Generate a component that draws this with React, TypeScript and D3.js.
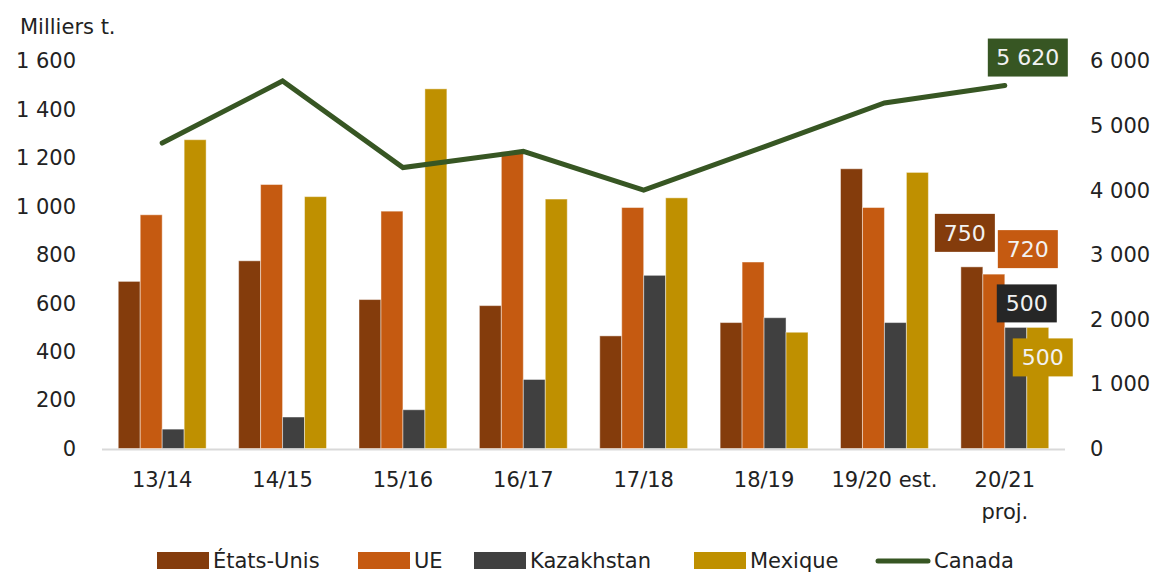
import React from 'react';
import * as d3 from 'd3';

const categories = ['13/14', '14/15', '15/16', '16/17', '17/18', '18/19', '19/20 est.', '20/21\nproj.'];
const etatsUnis = [690, 775, 615, 590, 465, 520, 1155, 750];
const ue = [965, 1090, 980, 1225, 995, 770, 995, 720];
const kazakhstan = [80, 130, 160, 285, 715, 540, 520, 500];
const mexique = [1275, 1040, 1485, 1030, 1035, 480, 1140, 500];
const canada = [4730, 5690, 4350, 4600, 4000, 4670, 5350, 5620];
const leftTicks = [0, 200, 400, 600, 800, 1000, 1200, 1400, 1600];
const rightTicks = [0, 1000, 2000, 3000, 4000, 5000, 6000];

const barSeries = [
  { name: 'États-Unis', values: etatsUnis, color: '#843C0C' },
  { name: 'UE', values: ue, color: '#C55A11' },
  { name: 'Kazakhstan', values: kazakhstan, color: '#404040' },
  { name: 'Mexique', values: mexique, color: '#BF9000' },
];
const lineColor = '#375623';

const W = 1156, H = 572;
const x0 = 102, x1 = 1065, yTop = 61, yBase = 448.5;
const font = '"DejaVu Sans", sans-serif';
const fmt = (v: number) => d3.format(',')(v).replace(/,/g, '\u00a0');

// offsets of the end-value labels relative to their mark (last category)
const labelOffsets = [
  { dx: -7, dy: -34 },
  { dx: 34, dy: -25 },
  { dx: 11, dy: -24 },
  { dx: 5, dy: 30 },
];

export default function App() {
  const xScale = d3.scaleBand().domain(categories).range([x0, x1]).paddingInner(0.27).paddingOuter(0.135);
  const xSub = d3.scaleBand().domain(barSeries.map(s => s.name)).range([0, xScale.bandwidth()]);
  const yLeft = d3.scaleLinear().domain([0, 1600]).range([yBase, yTop]);
  const yRight = d3.scaleLinear().domain([0, 6000]).range([yBase, yTop]);
  const cx = (c: string) => (xScale(c) as number) + xScale.bandwidth() / 2;
  const line = d3.line<number>().x((_, i) => cx(categories[i])).y(v => yRight(v));
  const last = categories[categories.length - 1];

  const legend = [
    { name: 'États-Unis', x: 157, color: barSeries[0].color },
    { name: 'UE', x: 358, color: barSeries[1].color },
    { name: 'Kazakhstan', x: 474, color: barSeries[2].color },
    { name: 'Mexique', x: 694, color: barSeries[3].color },
  ];

  return (
    <svg width={W} height={H} style={{ position: 'absolute', left: 0, top: 0, background: '#fff' }} fontFamily={font}>
      <text x={20} y={34} fontSize={21} fill="#222">Milliers t.</text>
      {leftTicks.map(t => (
        <text key={t} x={76} y={yLeft(t)} dy="0.35em" textAnchor="end" fontSize={21} fill="#222">{fmt(t)}</text>
      ))}
      {rightTicks.map(t => (
        <text key={t} x={1090} y={yRight(t)} dy="0.35em" fontSize={21} fill="#222">{fmt(t)}</text>
      ))}
      <line x1={x0} x2={x1} y1={yBase + 1} y2={yBase + 1} stroke="#d9d9d9" strokeWidth={2} />
      {barSeries.map(s => (
        <g key={s.name}>
          {s.values.map((v, i) => (
            <rect key={i} x={(xScale(categories[i]) as number) + (xSub(s.name) as number)} y={yLeft(v)}
              width={xSub.bandwidth()} height={yBase - yLeft(v)} fill={s.color}
              stroke="#fff" strokeOpacity={0.45} strokeWidth={1} />
          ))}
        </g>
      ))}
      <path d={line(canada) || ''} fill="none" stroke={lineColor} strokeWidth={5} strokeLinejoin="miter" strokeLinecap="round" />
      {categories.map(c => (
        <text key={c} x={cx(c)} y={487} textAnchor="middle" fontSize={21} fill="#222">
          {c.split('\n').map((p, j) => <tspan key={j} x={cx(c)} dy={j === 0 ? 0 : 32}>{p}</tspan>)}
        </text>
      ))}
      {barSeries.map((s, k) => {
        const v = s.values[s.values.length - 1];
        const bx = (xScale(last) as number) + (xSub(s.name) as number) + xSub.bandwidth() / 2 + labelOffsets[k].dx;
        const by = yLeft(v) + labelOffsets[k].dy;
        return (
          <g key={s.name}>
            <rect x={bx - 30} y={by - 19} width={60} height={38} fill={k === 2 ? '#262626' : s.color} />
            <text x={bx} y={by} dy="0.36em" textAnchor="middle" fontSize={22} fill="#f2f2f2">{fmt(v)}</text>
          </g>
        );
      })}
      {(() => {
        const v = canada[canada.length - 1];
        const bx = cx(last) + 23, by = yRight(v) - 28;
        return (
          <g>
            <rect x={bx - 40} y={by - 19} width={80} height={38} fill={lineColor} />
            <text x={bx} y={by} dy="0.36em" textAnchor="middle" fontSize={22} fill="#f2f2f2">{fmt(v)}</text>
          </g>
        );
      })()}
      {legend.map(l => (
        <g key={l.name}>
          <rect x={l.x} y={552} width={52} height={17} fill={l.color} />
          <text x={l.x + 56} y={568} fontSize={21} fill="#222">{l.name}</text>
        </g>
      ))}
      <line x1={878} x2={928} y1={561} y2={561} stroke={lineColor} strokeWidth={5} strokeLinecap="round" />
      <text x={934} y={568} fontSize={21} fill="#222">Canada</text>
    </svg>
  );
}
